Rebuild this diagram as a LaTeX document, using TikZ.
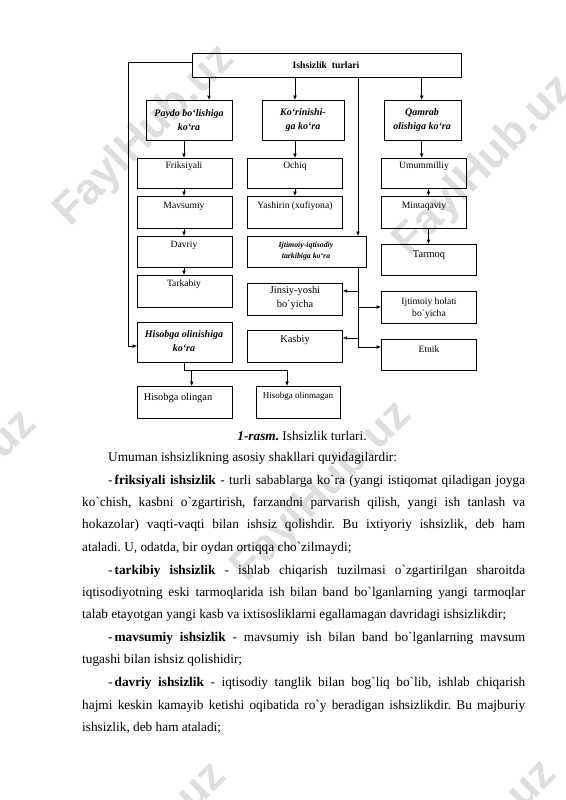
\documentclass[tikz,border=0pt]{standalone}
\usepackage{fontspec}
\setmainfont{Liberation Serif}
\newfontfamily\wmfont{Liberation Sans}
\usetikzlibrary{arrows.meta}
\newcommand\bq{\textasciigrave}
\newcommand\mkbox[5]{\node[bx, minimum width=#4pt, minimum height=#5pt] (#1) at (#2,#3) {};}
\begin{document}
\frenchspacing
\begin{tikzpicture}[x=1pt,y=-1pt,
  bx/.style={draw, line width=0.7pt, inner sep=0pt, anchor=north west},
  lb/.style={font=\fontsize{9.6}{12}\selectfont, align=center, inner sep=0pt},
  lbb/.style={font=\fontsize{10.4}{14}\selectfont, align=center, inner sep=0pt},
  bi/.style={font=\fontsize{10}{14}\selectfont\bfseries\itshape, align=center, inner sep=0pt},
  ln/.style={line width=0.7pt},
  arr/.style={line width=0.7pt, -{Latex[length=4.5pt,width=3.8pt]}},
  wm/.style={font=\wmfont\bfseries\fontsize{44}{44}\selectfont, text=black!13, rotate=45, inner sep=0pt}]
\useasboundingbox (0,0) rectangle (565,800);
\fill[white] (0,0) rectangle (565,800);
% watermarks
\node[wm] (w1) at (145,136) {FaylHub.uz};
\node[wm] (w2) at (484,166) {FaylHub.uz};
\node[wm] (w3) at (322,492) {FaylHub.uz};
\node[wm] (w4) at (-53,501) {FaylHub.uz};
\node[wm] (w5) at (137,853) {FaylHub.uz};
\node[wm] (w6) at (467,851) {FaylHub.uz};
% boxes
\mkbox{top}{192}{53}{269}{24}
\mkbox{pa}{146}{100}{86}{40}
\mkbox{ko}{262}{100}{82}{40}
\mkbox{qa}{384}{100}{77}{40}
\mkbox{fr}{137}{158}{95}{30}
\mkbox{oc}{247}{158}{95}{30}
\mkbox{um}{381}{158}{85}{30}
\mkbox{ma}{137}{196}{95}{32}
\mkbox{ya}{247}{196}{95}{32}
\mkbox{mi}{381}{196}{85}{32}
\mkbox{da}{137}{236}{95}{31}
\mkbox{ij}{247}{236}{119}{31}
\mkbox{tr}{381}{244}{95}{31}
\mkbox{tk}{137}{275}{95}{32}
\mkbox{ji}{247}{283}{95}{32}
\mkbox{ih}{381}{291}{95}{32}
\mkbox{hb}{137}{322}{95}{40}
\mkbox{ka}{247}{330}{95}{32}
\mkbox{et}{381}{339}{95}{31}
\mkbox{ho}{137}{386}{95}{32}
\mkbox{hn}{256}{386}{84}{32}
% labels
\node[lb, font=\fontsize{9.7}{12}\selectfont\bfseries] (topt) at (326,65) {Ishsizlik\ \ turlari};
\node[bi] (pat) at (189,120) {Paydo bo‘lishiga\\ko‘ra};
\node[bi] (kot) at (303,120) {Ko‘rinishi-\\ga ko‘ra};
\node[bi] (qat) at (422,120) {Qamrab\\olishiga ko‘ra};
\node[lb] (frt) at (184,166) {Friksiyali};
\node[lb] (oct) at (295,166) {Ochiq};
\node[lb] (umt) at (424,166) {Umummilliy};
\node[lb] (mat) at (184,206) {Mavsumiy};
\node[lb] (yat) at (295,206) {Yashirin (xufiyona)};
\node[lb] (mit) at (424,206) {Mintaqaviy};
\node[lb] (dat) at (184,245) {Davriy};
\node[bi, font=\fontsize{7.8}{11.5}\selectfont\bfseries\itshape] (ijt) at (306,251) {Ijtimoiy-iqtisodiy\\tarkibiga ko‘ra};
\node[lbb] (trt) at (429,255) {Tarmoq};
\node[lb] (tkt) at (184,284) {Tarkabiy};
\node[lbb] (jit) at (295,298) {Jinsiy-yoshi\\bo\bq yicha};
\node[lb] (iht) at (429,308) {Ijtimoiy holati\\bo\bq yicha};
\node[bi] (hbt) at (184,341) {Hisobga olinishiga\\ko‘ra};
\node[lbb] (kat) at (295,340) {Kasbiy};
\node[lb] (ett) at (429,349) {Etnik};
\node[lbb] (hot) at (178,398) {Hisobga olingan};
\node[lb, font=\fontsize{9}{11}\selectfont] (hnt) at (298,396) {Hisobga olinmagan};
% helper coordinates
\coordinate (x1) at (209,0);
\coordinate (x2) at (295,0);
\coordinate (x3) at (358,0);
\coordinate (x4) at (184,0);
\coordinate (x5) at (428.5,0);
\coordinate (x6) at (128,0);
\coordinate (x7) at (191.7,0);
\coordinate (x8) at (287,0);
\coordinate (x9) at (421.7,0);
\coordinate (yt) at (0,62);
\coordinate (yj) at (0,291);
\coordinate (yh) at (0,307);
\coordinate (yk) at (0,338);
\coordinate (ye) at (0,347);
\coordinate (yl) at (0,346);
\coordinate (yb) at (0,370);
% connectors
\draw[arr] (top.south -| x1) -- (pa.north -| x1);
\draw[arr] (top.south -| x2) -- (ko.north -| x2);
\draw[arr] (top.south -| x3) -- (ij.north -| x3);
\draw[arr] (top.south -| x9) -- (qa.north -| x9);
\draw[arr] (pa.south -| x4) -- (fr.north -| x4);
\draw[arr] (fr.south -| x4) -- (ma.north -| x4);
\draw[arr] (ma.south -| x4) -- (da.north -| x4);
\draw[arr] (da.south -| x4) -- (tk.north -| x4);
\draw[arr] (ko.south -| x2) -- (oc.north -| x2);
\draw[arr] (oc.south -| x2) -- (ya.north -| x2);
\draw[arr] (qa.south -| x9) -- (um.north -| x9);
\draw[arr] (um.south -| x5) -- (mi.north -| x5);
\draw[arr] (mi.south -| x5) -- (tr.north -| x5);
\draw[ln] (ij.south -| x3) -- (x3 |- ye);
\draw[arr] (x3 |- yj) -- (ji.east |- yj);
\draw[arr] (x3 |- yk) -- (ka.east |- yk);
\draw[arr] (x3 |- yh) -- (ih.west |- yh);
\draw[arr] (x3 |- ye) -- (et.west |- ye);
\draw[arr] (top.west |- yt) -| (x6 |- yl) -- (hb.west |- yl);
\draw[ln] (hb.south -| x4) -- (x4 |- yb) -- (x8 |- yb);
\draw[arr] (x7 |- yb) -- (ho.north -| x7);
\draw[arr] (x8 |- yb) -- (hn.north -| x8);
% caption
\node[anchor=base, inner sep=0pt, font=\fontsize{13.3}{16}\selectfont] (cap) at (302,440) {\textbf{\textit{1-rasm.}} Ishsizlik turlari.};
% body text
\node[anchor=north west, inner sep=0pt, text width=443pt, align=justify, font=\fontsize{13.3}{22.3}\selectfont] (body) at (82,452) {%
\frenchspacing\parskip=0.6pt
\noindent\hspace*{26pt}Umuman ishsizlikning asosiy shakllari quyidagilardir:\par
\noindent\hspace*{26pt}-\hspace{2pt}\textbf{friksiyali ishsizlik} - turli sabablarga ko\bq ra (yangi istiqomat qiladigan joyga\linebreak
ko\bq chish, kasbni o\bq zgartirish, farzandni parvarish qilish, yangi ish tanlash va\linebreak
hokazolar) vaqti-vaqti bilan ishsiz qolishdir. Bu ixtiyoriy ishsizlik, deb ham\linebreak
ataladi. U, odatda, bir oydan ortiqqa cho\bq zilmaydi;\par
\noindent\hspace*{26pt}-\hspace{2pt}\textbf{tarkibiy ishsizlik} - ishlab chiqarish tuzilmasi o\bq zgartirilgan sharoitda\linebreak
iqtisodiyotning eski tarmoqlarida ish bilan band bo\bq lganlarning yangi tarmoqlar\linebreak
talab etayotgan yangi kasb va ixtisosliklarni egallamagan davridagi ishsizlikdir;\par
\noindent\hspace*{26pt}-\hspace{2pt}\textbf{mavsumiy ishsizlik} - mavsumiy ish bilan band bo\bq lganlarning mavsum\linebreak
tugashi bilan ishsiz qolishidir;\par
\noindent\hspace*{26pt}-\hspace{2pt}\textbf{davriy ishsizlik} - iqtisodiy tanglik bilan bog\bq liq bo\bq lib, ishlab chiqarish\linebreak
hajmi keskin kamayib ketishi oqibatida ro\bq y beradigan ishsizlikdir. Bu majburiy\linebreak
ishsizlik, deb ham ataladi;\par};
\end{tikzpicture}
\end{document}
